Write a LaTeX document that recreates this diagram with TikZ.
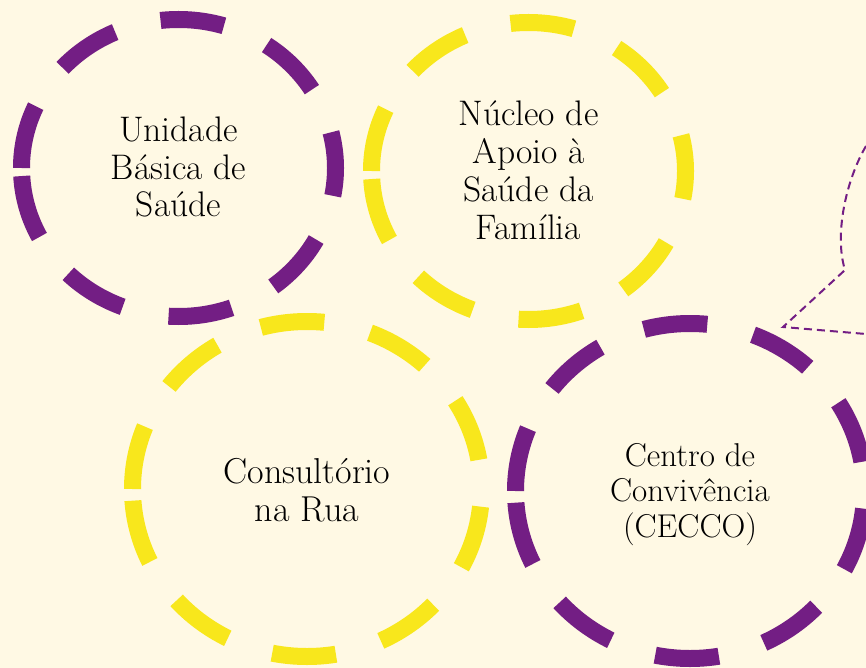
\documentclass[tikz,border=0pt]{standalone}
\usepackage{fontspec}
\definecolor{bgc}{HTML}{FFF9E4}
\definecolor{purp}{HTML}{731E84}
\definecolor{yel}{HTML}{F8E71C}
\tikzset{
  ringstyle/.style={line width=17pt, dash pattern=on 64pt off 47pt},
  txtstyle/.style={align=center, inner sep=0pt, anchor=base, text=black,
    font={\fontsize{35.5}{37.5}\selectfont}},
  bubblestyle/.style={draw=purp, line width=2pt, dash pattern=on 8pt off 5pt},
}
\begin{document}
\begin{tikzpicture}[x=1pt,y=-1pt]
\useasboundingbox (0,0) rectangle (866,668);
\clip (0,0) rectangle (866,668);
\fill[bgc] (0,0) rectangle (866,668);
% rings
\draw[ringstyle,purp] (21.5,168) arc[start angle=180,end angle=-180,x radius=157pt,y radius=148.5pt];
\draw[ringstyle,yel] (371.5,171) arc[start angle=180,end angle=-180,x radius=157pt,y radius=148.5pt];
\draw[ringstyle,yel] (132.5,489) arc[start angle=180,end angle=-180,x radius=174.5pt,y radius=167.5pt];
\draw[ringstyle,purp] (515.5,491) arc[start angle=180,end angle=-180,x radius=174.5pt,y radius=167.5pt];
% labels (base anchor = baseline of last line)
\node[txtstyle] (ubs) at (178.5,217) {Unidade\\Básica de\\Saúde};
\node[txtstyle, font={\fontsize{35.5}{38}\selectfont}] (nasf) at (528.5,240) {Núcleo de\\Apoio à\\Saúde da\\Família};
\node[txtstyle, font={\fontsize{36}{38}\selectfont}] (cnr) at (307,521) {Consultório\\na Rua};
\node[txtstyle, font={\fontsize{33}{35.5}\selectfont}] (cecco) at (690,537) {Centro de\\Convivência\\(CECCO)};
% speech bubble outline
\coordinate (b1) at (866,146);
\coordinate (b2) at (845,270);
\coordinate (b3) at (783,327);
\coordinate (b4) at (866,334);
\draw[bubblestyle] (b1) .. controls (846,180) and (834,235) .. (b2) -- (b3) -- (b4);
\end{tikzpicture}
\end{document}
